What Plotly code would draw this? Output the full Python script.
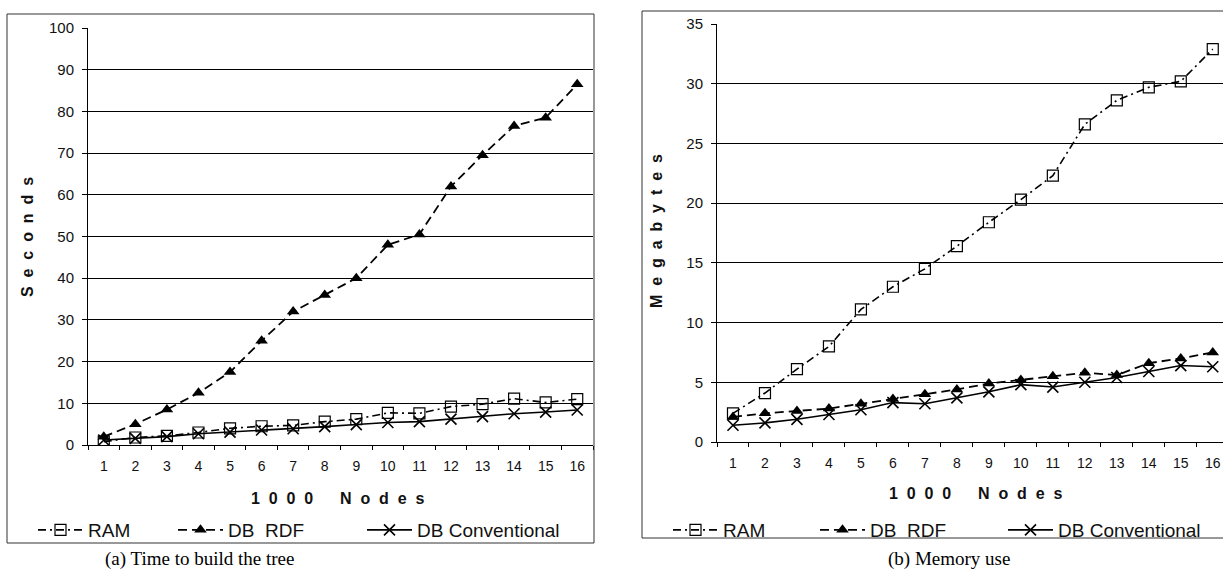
import plotly.graph_objects as go

W, H = 1223, 570

nodes = [str(i) for i in range(1, 17)]

# (a) time to build the tree, seconds
time_ram = [0.8, 1.8, 2.2, 3.0, 4.0, 4.5, 4.7, 5.6, 6.2, 7.7, 7.6, 9.2, 9.8, 11.1, 10.2, 11.0]
time_rdf = [2.0, 5.0, 8.5, 12.5, 17.5, 25.0, 32.0, 36.0, 40.0, 48.0, 50.5, 62.0, 69.5, 76.5, 78.5, 86.5]
time_conv = [1.2, 1.6, 2.0, 2.7, 3.1, 3.6, 3.9, 4.4, 4.9, 5.4, 5.6, 6.2, 6.8, 7.5, 7.9, 8.4]

# (b) memory use, megabytes
mem_ram = [2.4, 4.1, 6.1, 8.0, 11.1, 13.0, 14.5, 16.4, 18.4, 20.3, 22.3, 26.6, 28.6, 29.7, 30.2, 32.9]
mem_rdf = [2.1, 2.4, 2.6, 2.8, 3.2, 3.6, 4.0, 4.4, 4.9, 5.2, 5.5, 5.8, 5.6, 6.6, 7.0, 7.5]
mem_conv = [1.4, 1.6, 1.9, 2.3, 2.7, 3.3, 3.2, 3.7, 4.2, 4.8, 4.6, 5.0, 5.4, 5.9, 6.4, 6.3]

series_names = ["RAM", "DB  RDF", "DB Conventional"]

SANS = "Liberation Sans, Arial, sans-serif"
SERIF = "Liberation Serif, Times New Roman, serif"


def px_x(x):
    return x / W


def px_y(y):
    return 1 - y / H


def spaced(text, gap=2):
    sep = "\u00a0" * gap
    return sep.join(text).replace(sep + " " + sep, sep * 3)


styles = [
    dict(line=dict(color="black", width=1.6, dash="8px,4px,2px,4px"),
         marker=dict(symbol="square-open", size=11, color="black", line=dict(width=1.2))),
    dict(line=dict(color="black", width=1.8, dash="9px,5px"),
         marker=dict(symbol="triangle-up", size=11, color="black")),
    dict(line=dict(color="black", width=1.6),
         marker=dict(symbol="x-thin-open", size=11, color="black", line=dict(width=1.6))),
]

fig = go.Figure()

panels = [
    ("x", "y", [time_ram, time_rdf, time_conv], ["legend", "legend2", "legend3"]),
    ("x2", "y2", [mem_ram, mem_rdf, mem_conv], ["legend4", "legend5", "legend6"]),
]
for xa, ya, data, legends in panels:
    for name, vals, st, lg in zip(series_names, data, styles, legends):
        fig.add_trace(go.Scatter(
            x=nodes, y=vals, name=name, mode="lines+markers",
            xaxis=xa, yaxis=ya, legend=lg, **st,
        ))

xaxis_common = dict(
    type="category", tickson="boundaries", ticks="outside", ticklen=4,
    tickcolor="black", showline=True, linecolor="black", linewidth=1,
    showgrid=False, ticklabelstandoff=8, automargin=False,
    tickfont=dict(family=SANS, size=14, color="#111"),
)
yaxis_common = dict(
    showgrid=True, gridcolor="black", gridwidth=1.2, showline=True,
    linecolor="black", linewidth=1, ticks="outside", ticklen=5,
    tickcolor="black", zeroline=False, ticklabelstandoff=5, automargin=False,
    tickfont=dict(family=SANS, size=15, color="#111"),
)

legend_common = dict(
    orientation="h", yanchor="middle", xanchor="left", y=px_y(530), itemwidth=45,
    bgcolor="rgba(0,0,0,0)", font=dict(family=SANS, size=19, color="#111"),
)

fig.update_layout(
    width=W, height=H,
    margin=dict(l=0, r=0, t=0, b=0, autoexpand=False),
    paper_bgcolor="white", plot_bgcolor="white",
    xaxis=dict(domain=[px_x(88), px_x(593)], range=[-0.5, 15.5], anchor="y", **xaxis_common),
    yaxis=dict(domain=[px_y(445), px_y(28)], range=[0, 100], dtick=10, anchor="x", **yaxis_common),
    xaxis2=dict(domain=[px_x(717), 1.0], range=[-0.5, 15.32], anchor="y2", **xaxis_common),
    yaxis2=dict(domain=[px_y(442), px_y(24)], range=[0, 35], dtick=5, anchor="x2", **yaxis_common),
    legend=dict(x=px_x(33), **legend_common),
    legend2=dict(x=px_x(173), **legend_common),
    legend3=dict(x=px_x(362), **legend_common),
    legend4=dict(x=px_x(668), **legend_common),
    legend5=dict(x=px_x(815), **legend_common),
    legend6=dict(x=px_x(1003), **legend_common),
    showlegend=True,
)

# outer frames of the two panels
fig.add_shape(type="rect", xref="paper", yref="paper",
              x0=px_x(7), x1=px_x(594), y0=px_y(543), y1=px_y(14),
              line=dict(color="#333", width=1))
fig.add_shape(type="rect", xref="paper", yref="paper",
              x0=px_x(642), x1=px_x(1230), y0=px_y(538), y1=px_y(11),
              line=dict(color="#333", width=1))

axis_font = dict(family=SANS, size=16, color="#111")
labels = [
    (spaced("Seconds"), 28, 237, -90),
    (spaced("Megabytes"), 657, 231, -90),
    (spaced("1000 Nodes"), 338, 498, 0),
    (spaced("1000 Nodes"), 976, 493, 0),
]
for text, lx, ly, angle in labels:
    fig.add_annotation(text="<b>" + text + "</b>", x=px_x(lx), y=px_y(ly),
                       xref="paper", yref="paper", xanchor="center", yanchor="middle",
                       textangle=angle, showarrow=False, font=axis_font)

cap_font = dict(family=SERIF, size=19, color="black")
for text, cx in [("(a) Time to build the tree", 199), ("(b) Memory use", 949)]:
    fig.add_annotation(text=text, x=px_x(cx), y=px_y(559), xref="paper", yref="paper",
                       xanchor="center", yanchor="middle", showarrow=False, font=cap_font)

fig.write_html("out.html", config={"displayModeBar": False},
               post_script="document.body.style.margin = '0';")
